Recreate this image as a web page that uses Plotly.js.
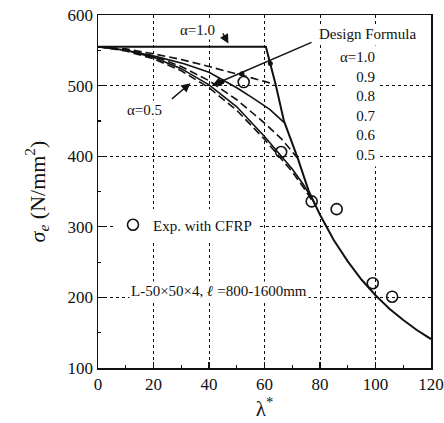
<!DOCTYPE html>
<html><head><meta charset="utf-8">
<script src="https://cdn.plot.ly/plotly-3.0.1.min.js"></script>
<style>body{margin:0;background:#fff}#g{width:444px;height:423px}</style>
</head><body><div id="g"></div>
<script>
// alpha = 1.0 (solid) incl. common elastic tail
const lam10 = [0, 60.5, 62, 64, 67, 72, 76, 77.8, 80, 85, 90, 95, 100, 105, 110, 115, 120];
const sig10 = [555, 555, 532, 502, 450, 397, 350, 335, 317, 281, 251, 225, 203, 184, 168, 153.5, 141];
// alpha = 0.9 (dashed)
const lam09 = [0, 10, 20, 30, 40, 50, 60, 63.5];
const sig09 = [555, 552, 545, 537, 527, 517, 506, 502];
// alpha = 0.8 (solid)
const lam08 = [0, 10, 21, 31, 40, 45, 50, 56, 62, 67];
const sig08 = [555, 550, 541, 531, 519, 508, 497, 482, 466, 448];
// alpha = 0.7 (dashed)
const lam07 = [0, 10, 20, 30, 40, 50, 60, 66, 71.8];
const sig07 = [555, 551, 542, 527, 507, 480, 447, 425, 398];
// alpha = 0.6 (solid)
const lam06 = [0, 10, 20, 30, 40, 50, 60, 66, 70, 74, 77.8];
const sig06 = [555, 550, 540, 524, 501, 470, 428, 401, 382, 360, 335];
// alpha = 0.5 (dashed)
const lam05 = [0, 10, 20, 30, 40, 50, 60, 66, 70, 74, 77.8];
const sig05 = [555, 549, 538, 521, 497, 465, 424, 397, 378, 356, 333];
// experiments with CFRP
const expLam = [52.5, 66, 77, 86, 99, 106];
const expSig = [505, 406, 336, 325, 220, 201];

const alphaLabels = ['α=1.0', '0.9', '0.8', '0.7', '0.6', '0.5'];

const F = 'Liberation Serif, Times New Roman, serif';
const blk = '#111';
function line(x, y, dash, w) {
  return {x: x, y: y, type: 'scatter', mode: 'lines', showlegend: false, hoverinfo: 'skip',
    line: {color: blk, width: w || 1.6, dash: dash ? '8px,4px' : 'solid'}};
}
const traces = [
  line(lam09, sig09, true), line(lam08, sig08, false), line(lam07, sig07, true),
  line(lam06, sig06, false), line(lam05, sig05, true), line(lam10, sig10, false, 2),
  {x: expLam, y: expSig, type: 'scatter', mode: 'markers', name: 'Exp. with CFRP', showlegend: true,
   marker: {symbol: 'circle-open', size: 11, color: blk, line: {width: 1.6, color: blk}}}
];

function arrow(x, y, ax, ay) {
  return {x: x, y: y, ax: ax, ay: ay, xref: 'x', yref: 'y', axref: 'x', ayref: 'y', text: '',
    showarrow: true, arrowhead: 2, arrowsize: 1.3, arrowwidth: 1.4, arrowcolor: blk};
}
const annotations = [
  {x: 97.2, y: 573.7, xref: 'x', yref: 'y', text: 'Design Formula', showarrow: false,
   font: {family: F, size: 15, color: blk}, bgcolor: '#fff'},
  {x: 101.7, y: 471.8, xref: 'x', yref: 'y', text: alphaLabels.join('<br>'), showarrow: false,
   xanchor: 'right', align: 'right', font: {family: F, size: 15, color: blk}, bgcolor: '#fff', borderpad: 3},
  {x: 35.9, y: 578.4, xref: 'x', yref: 'y', text: 'α=1.0', showarrow: false,
   font: {family: F, size: 15, color: blk}, bgcolor: '#fff'},
  {x: 16.7, y: 465.3, xref: 'x', yref: 'y', text: 'α=0.5', showarrow: false,
   font: {family: F, size: 15, color: blk}, bgcolor: '#fff'},
  {x: 43.7, y: 208.4, xref: 'x', yref: 'y', text: 'L-50×50×4, <b><i>ℓ</i></b> =800-1600mm', showarrow: false,
   font: {family: F, size: 15, color: blk}, bgcolor: '#fff'},
  arrow(47.0, 559.6, 44.7, 576),
  arrow(33.3, 503.4, 26.1, 479.4),
  arrow(41.2, 500.6, 77.5, 562)
];
const dotPts = [[62.1, 531.3], [51.9, 516.9], [44.7, 505.6]];
const shapes = dotPts.map(p => ({type: 'circle', xref: 'x', yref: 'y', xsizemode: 'pixel', ysizemode: 'pixel',
  xanchor: p[0], yanchor: p[1], x0: -2.5, x1: 2.5, y0: -2.5, y1: 2.5, fillcolor: blk, line: {width: 0}}));

const axisCommon = {
  showline: true, linecolor: blk, linewidth: 1.5, mirror: true,
  ticks: 'inside', ticklen: 6, tickwidth: 1.2, tickcolor: blk,
  showgrid: true, gridcolor: blk, gridwidth: 1, griddash: 'dot',
  zeroline: false, tickfont: {family: F, size: 17, color: blk}
};
const layout = {
  width: 444, height: 423, margin: {l: 98, r: 13, t: 15, b: 55},
  paper_bgcolor: '#fff', plot_bgcolor: '#fff',
  xaxis: Object.assign({}, axisCommon, {range: [0, 120], dtick: 20, tick0: 0,
    minor: {dtick: 10, ticks: 'inside', ticklen: 3, tickcolor: blk, showgrid: false},
    title: {text: 'λ<sup>*</sup>', font: {family: F, size: 21, color: blk}, standoff: 8}}),
  yaxis: Object.assign({}, axisCommon, {range: [100, 600], dtick: 100, tick0: 100,
    minor: {dtick: 50, ticks: 'inside', ticklen: 3, tickcolor: blk, showgrid: false},
    title: {text: '<i>σ<sub>e</sub></i> (N/mm<sup>2</sup>)', font: {family: F, size: 22, color: blk}, standoff: 16}}),
  showlegend: true,
  legend: {x: 0.045, y: 0.405, xanchor: 'left', yanchor: 'middle', bgcolor: '#fff',
    font: {family: F, size: 15, color: blk}, borderwidth: 0},
  annotations: annotations, shapes: shapes
};
Plotly.newPlot('g', traces, layout, {displayModeBar: false, staticPlot: true});
</script></body></html>
